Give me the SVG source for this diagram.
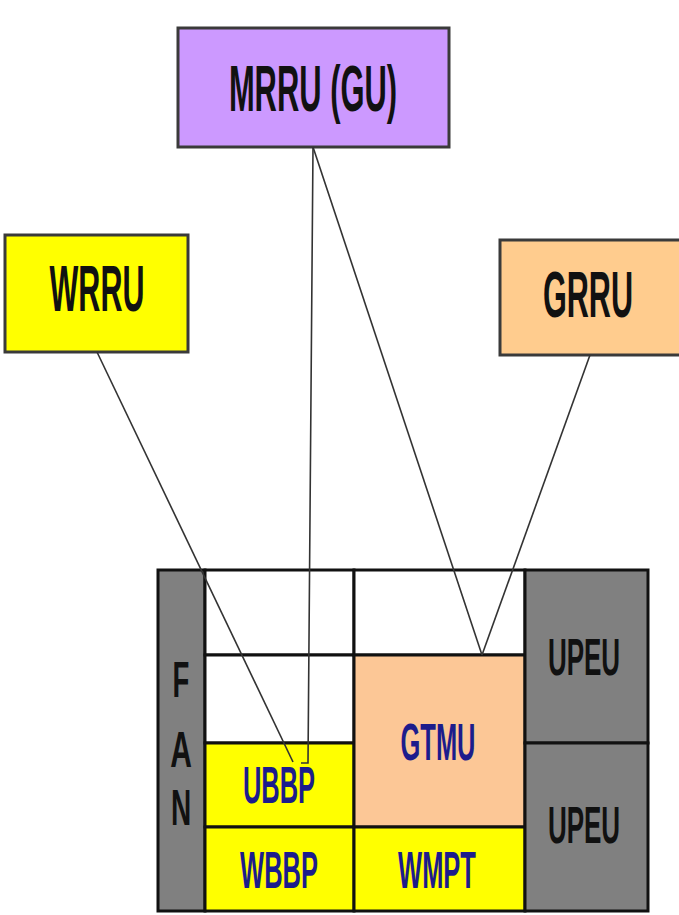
<svg xmlns="http://www.w3.org/2000/svg" width="679" height="915" viewBox="0 0 679 915">
  <style>
    .box { stroke: #3a3a3a; stroke-width: 3; }
    .big { font-family: "Liberation Sans", Arial, sans-serif; font-weight: bold; font-size: 64px; fill: #111; text-anchor: middle; }
    .slot { font-family: "Liberation Sans", Arial, sans-serif; font-weight: bold; font-size: 52px; fill: #1c1c8c; text-anchor: middle; }
    .pwr { font-family: "Liberation Sans", Arial, sans-serif; font-weight: bold; font-size: 52px; fill: #111; text-anchor: middle; }
    .fan { font-family: "Liberation Sans", Arial, sans-serif; font-weight: bold; font-size: 50px; fill: #111; text-anchor: middle; }
    .cell { stroke: #111; stroke-width: 3; }
    .link { stroke: #333; stroke-width: 1.6; fill: none; }
  </style>

  <!-- remote radio units (labels are set in a condensed face via horizontal scaling) -->
  <g id="mrru">
    <rect class="box" x="178" y="28" width="271" height="119" fill="#cc99ff" stroke="#5e3f7e"/>
    <text class="big" transform="translate(313,111) scale(0.483,1)">MRRU (GU)</text>
  </g>
  <g id="wrru">
    <rect class="box" x="5" y="235" width="183" height="117" fill="#ffff00"/>
    <text class="big" transform="translate(97,311) scale(0.477,1)">WRRU</text>
  </g>
  <g id="grru">
    <rect class="box" x="500" y="240" width="182" height="115" fill="#ffcc8e"/>
    <text class="big" transform="translate(588,317) scale(0.478,1)">GRRU</text>
  </g>

  <!-- baseband cabinet -->
  <g id="cabinet">
    <rect x="158" y="570" width="490" height="341" fill="#ffffff"/>
    <g id="fan">
      <rect class="cell" x="158" y="570" width="47" height="341" fill="#808080"/>
      <text class="fan" transform="translate(181,697) scale(0.55,1)">F</text>
      <text class="fan" transform="translate(181,767) scale(0.6,1)">A</text>
      <text class="fan" transform="translate(181,825) scale(0.56,1)">N</text>
    </g>
    <g id="slot-empty-1"><rect class="cell" x="205" y="570" width="149" height="85" fill="#ffffff"/></g>
    <g id="slot-empty-2"><rect class="cell" x="205" y="655" width="149" height="88" fill="#ffffff"/></g>
    <g id="slot-empty-3"><rect class="cell" x="354" y="570" width="171" height="85" fill="#ffffff"/></g>
    <g id="ubbp">
      <rect class="cell" x="205" y="743" width="149" height="84" fill="#ffff00"/>
      <text class="slot" transform="translate(279,803) scale(0.49,1)">UBBP</text>
    </g>
    <g id="wbbp">
      <rect class="cell" x="205" y="827" width="149" height="84" fill="#ffff00"/>
      <text class="slot" transform="translate(279,888) scale(0.49,1)">WBBP</text>
    </g>
    <g id="gtmu">
      <rect class="cell" x="354" y="655" width="171" height="172" fill="#fcc796"/>
      <text class="slot" transform="translate(438,760) scale(0.49,1)">GTMU</text>
    </g>
    <g id="wmpt">
      <rect class="cell" x="354" y="827" width="171" height="84" fill="#ffff00"/>
      <text class="slot" transform="translate(437,888) scale(0.49,1)">WMPT</text>
    </g>
    <g id="upeu-1">
      <rect class="cell" x="525" y="570" width="123" height="173" fill="#808080"/>
      <text class="pwr" transform="translate(584,675) scale(0.5,1)">UPEU</text>
    </g>
    <g id="upeu-2">
      <rect class="cell" x="525" y="743" width="123" height="168" fill="#808080"/>
      <text class="pwr" transform="translate(584,843) scale(0.5,1)">UPEU</text>
    </g>
  </g>

  <!-- fibre links -->
  <g id="connectors">
    <line class="link" x1="97" y1="352" x2="293" y2="762"/>
    <polyline class="link" points="313,147 308,763 301,763"/>
    <line class="link" x1="313" y1="147" x2="482" y2="655"/>
    <line class="link" x1="590" y1="355" x2="482" y2="655"/>
  </g>
</svg>
